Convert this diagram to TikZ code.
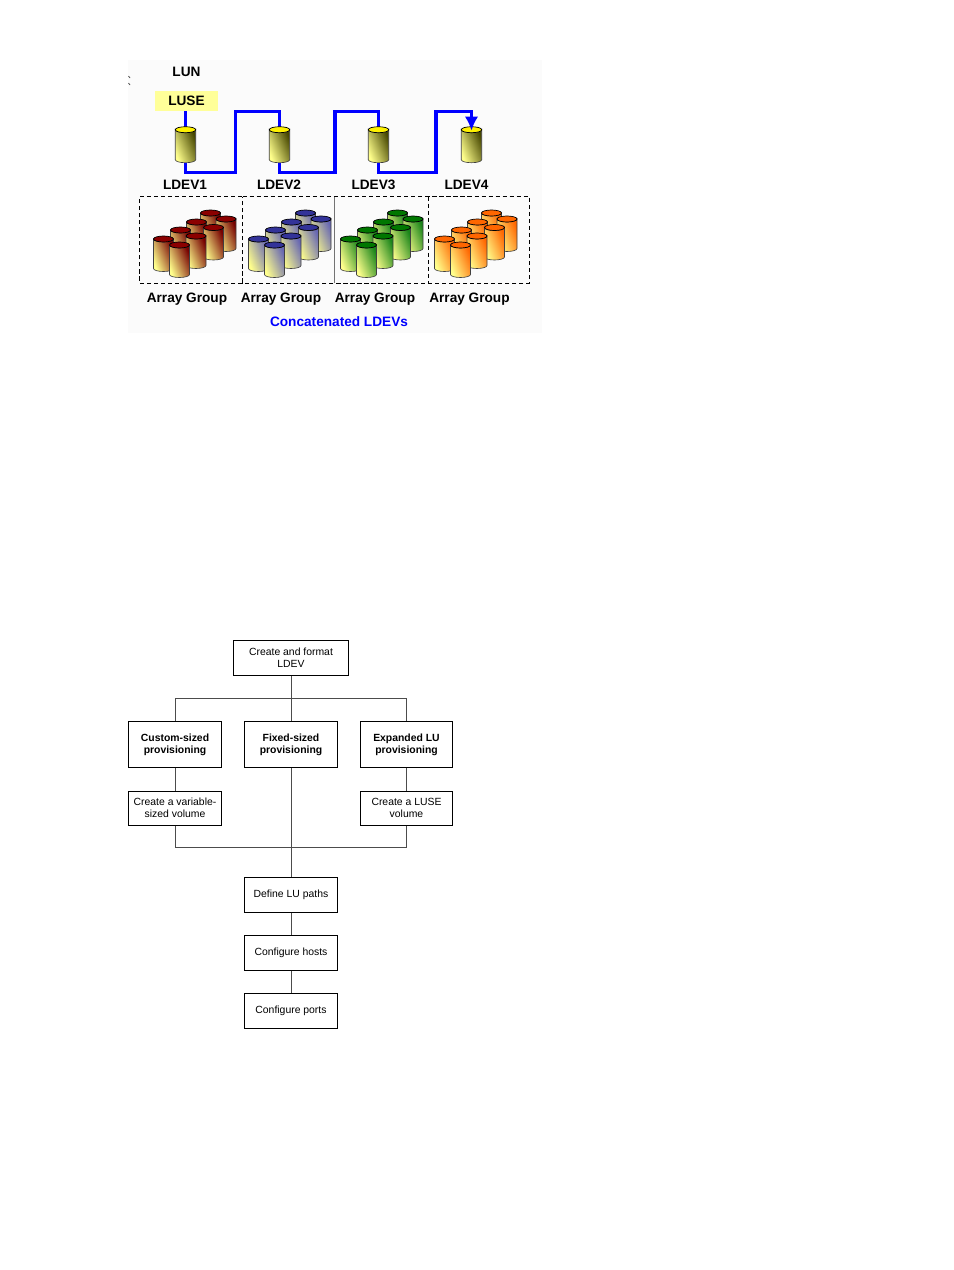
\documentclass[tikz,border=0pt]{standalone}
\usepackage{fontspec}
\setmainfont{Liberation Sans}
\usetikzlibrary{arrows.meta}
\definecolor{lusefill}{HTML}{FFFF99}
\definecolor{drumred}{HTML}{8B0000}
\definecolor{drumblue}{HTML}{333399}
\definecolor{drumgreen}{HTML}{007700}
\definecolor{drumorange}{HTML}{FF6600}
\tikzset{
    wire/.style = {line width=2.4pt,draw=blue},
    wirea/.style = {wire,-{Latex[length=10pt,width=9.5pt]},shorten >=-0.1cm},
    flow/.style = {draw=black!70,line width=0.6pt},
    flowbox/.style = {rectangle,draw=black,line width=0.7pt,minimum width=2.3cm,align=center,font=\fontsize{7.4}{8.6}\selectfont},
    flowboxb/.style = {flowbox,minimum height=1.15cm,font=\bfseries\fontsize{7.4}{8.6}\selectfont},
    toplabel/.style = {font=\bfseries\fontsize{9.7}{11}\selectfont},
    drumnode/.style = {rectangle,inner sep=0pt,minimum width=0.5cm,minimum height=0.9cm},
    groupline/.style = {draw=black,densely dashed,line width=0.6pt},
    pics/drum/.style n args={4}{code={
        \shade[draw=black!75,line width=0.45pt,bottom color=yellow!45,middle color=#4!35!yellow!65,top color=#4,shading angle=-68]
          (-#1,0) -- (-#1,#2) arc[start angle=180,end angle=0,x radius=#1,y radius=3]
          -- (#1,0) arc[start angle=0,end angle=180,x radius=#1,y radius=3] -- cycle;
        \draw[draw=black,line width=0.5pt,fill=#3] (0,0) ellipse[x radius=#1,y radius=3];
    }},
}
\begin{document}
\begin{tikzpicture}[x=0.025cm,y=-0.025cm]
\useasboundingbox (0,0) rectangle (954,1270);
\fill[black!1.5] (128,60) rectangle (542,333);
\draw[black!70,line width=0.5pt] (128.5,76) -- (130,78) (128.5,83) -- (130,85);

% luse connection
\node[toplabel] (lun) at (186.5,72) {LUN};
\node[rectangle,fill=lusefill,minimum width=1.575cm,minimum height=0.5cm,toplabel] (luse) at (186.5,101) {LUSE};
\node[drumnode] (ldev1) at (185.5,145) {};
\node[drumnode] (ldev2) at (279.5,145) {};
\node[drumnode] (ldev3) at (378.5,145) {};
\node[drumnode] (ldev4) at (471.5,145) {};
\draw[wire] (luse.south -| ldev1) -- (ldev1.north);
\draw[wire] (ldev1.south) -- ++(0,9) -| ++(50,-61) -| (ldev2.north);
\draw[wire] (ldev2.south) -- ++(0,9) -| ++(55.5,-61) -| (ldev3.north);
\foreach \name in {ldev1,ldev2,ldev3,ldev4}
  \pic at (\name.north) [yshift=-0.075cm] {drum={10.2}{30}{yellow}{black!72!yellow}};
\draw[wirea] (ldev3.south) -- ++(0,9) -| ++(57.5,-61) -| (ldev4.north);
\node[toplabel] (lab1) at (185,185) {LDEV1};
\node[toplabel] (lab2) at (279,185) {LDEV2};
\node[toplabel] (lab3) at (373.5,185) {LDEV3};
\node[toplabel] (lab4) at (466.5,185) {LDEV4};

% array groups
\draw[groupline] (242.5,283) -- (139.5,283) -- (139.5,196.5) -- (242.5,196.5);
\draw[groupline] (242.5,196.5) -- (529.5,196.5) -- (529.5,283) -- (242.5,283) -- cycle;
\draw[black!55,line width=0.6pt] (334.5,196.5) -- (334.5,283);
\draw[groupline] (428.5,196.5) -- (428.5,283);
\foreach \dx/\top/\side in {0/drumred/drumred!85!black,95/drumblue/drumblue!75!white,187/drumgreen/drumgreen!90!white,281/drumorange/drumorange}
  \foreach \px/\py in {210.5/213,226/219,196.5/222,213.5/227.5,180.5/230,196/236,163.5/239,179.5/245}
    \pic at (\px+\dx,\py) {drum={10}{29.5}{\top}{\side}};
\node[toplabel] (group1) at (187,299) {Array Group};
\node[toplabel] (group2) at (281,299) {Array Group};
\node[toplabel] (group3) at (375,299) {Array Group};
\node[toplabel] (group4) at (469.5,299) {Array Group};
\node[toplabel,text=blue] (concat) at (339,322) {Concatenated LDEVs};

% flow chart
\node[flowbox,minimum width=2.875cm,minimum height=0.875cm] (create) at (291,658) {Create and format\\LDEV};
\node[flowboxb] (custom) at (175,744.5) {Custom-sized\\provisioning};
\node[flowboxb,minimum width=2.325cm] (fixed) at (291,744.5) {Fixed-sized\\provisioning};
\node[flowboxb] (expanded) at (406.5,744.5) {Expanded LU\\provisioning};
\node[flowbox,minimum height=0.85cm] (variable) at (175,808) {Create a variable-\\sized volume};
\node[flowbox,minimum height=0.85cm] (lusevol) at (406.5,808) {Create a LUSE\\volume};
\node[flowbox,minimum width=2.325cm,minimum height=0.875cm] (paths) at (291,894.5) {Define LU paths};
\node[flowbox,minimum width=2.325cm,minimum height=0.875cm] (hosts) at (291,952.5) {Configure hosts};
\node[flowbox,minimum width=2.325cm,minimum height=0.875cm] (ports) at (291,1010.5) {Configure ports};
\coordinate (barup) at (291,698.5);
\coordinate (bardown) at (291,847.5);
\draw[flow] (create) -- (fixed);
\draw[flow] (custom.north) |- (barup) -| (expanded.north);
\draw[flow] (custom) -- (variable);
\draw[flow] (expanded) -- (lusevol);
\draw[flow] (variable.south) |- (bardown) -| (lusevol.south);
\draw[flow] (fixed) -- (paths);
\draw[flow] (paths) -- (hosts);
\draw[flow] (hosts) -- (ports);
\end{tikzpicture}
\end{document}
